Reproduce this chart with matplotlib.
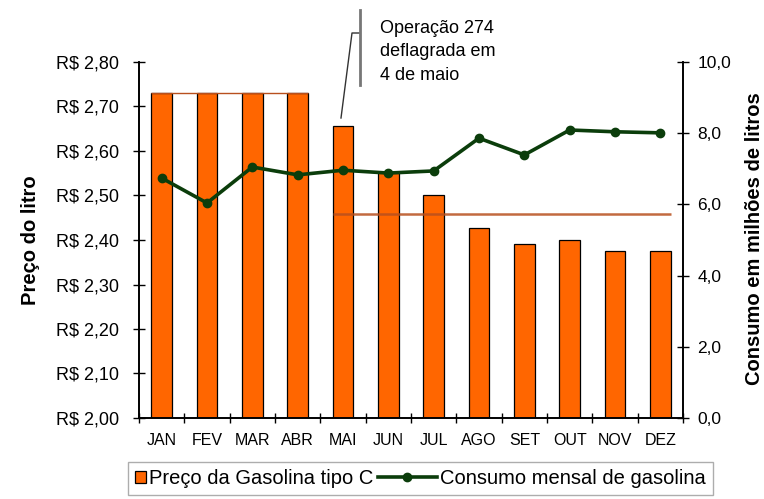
import matplotlib.pyplot as plt
from matplotlib.legend_handler import HandlerLine2D
from matplotlib.lines import Line2D
from matplotlib.ticker import FuncFormatter, MultipleLocator

plt.rcParams["font.family"] = ["Liberation Sans", "DejaVu Sans"]

# dados
meses = ["JAN", "FEV", "MAR", "ABR", "MAI", "JUN", "JUL", "AGO", "SET", "OUT", "NOV", "DEZ"]
preco = [2.73, 2.73, 2.73, 2.73, 2.656, 2.553, 2.50, 2.427, 2.39, 2.40, 2.375, 2.375]
consumo = [6.74, 6.04, 7.05, 6.83, 6.96, 6.88, 6.94, 7.86, 7.39, 8.09, 8.04, 8.01]
media_antes = 2.73   # JAN-ABR
media_depois = 2.458  # MAI-DEZ

laranja = "#ff6600"
verde = "#0b3d0b"
marrom = "#b8501e"
W, H = 764, 499


class HandlerLinhaLonga(HandlerLine2D):
    """Linha da legenda que se estende para a esquerda do espaço do marcador."""

    def __init__(self, extra, **kw):
        super().__init__(**kw)
        self.extra = extra

    def create_artists(self, legend, orig_handle, xdescent, ydescent, width, height, fontsize, trans):
        ext = self.extra * fontsize
        return super().create_artists(legend, orig_handle, xdescent + ext, ydescent,
                                      width + ext, height, fontsize, trans)


fig = plt.figure(figsize=(W / 100, H / 100), dpi=100)
ax = fig.add_axes([139 / W, 1 - 418 / H, (683 - 139) / W, (418 - 62) / H])
ax2 = ax.twinx()

x = list(range(len(meses)))
largura = 0.46
barras = ax.bar(x, preco, width=largura, color=laranja, edgecolor="black", linewidth=0.9,
                label="Preço da Gasolina tipo C", zorder=2)

# linhas de média antes/depois da operação
ax.hlines(media_antes, 0 - largura / 2, 3 + largura / 2, color=marrom, linewidth=1.0, zorder=3)
ax.hlines(media_depois, 4 - largura / 2, 11 + largura / 2, color=marrom, linewidth=1.8, alpha=0.85, zorder=3)

linha, = ax2.plot(x, consumo, color=verde, linewidth=2.6, marker="o", markersize=6,
                  label="Consumo mensal de gasolina")

ax.set_xlim(-0.5, len(meses) - 0.5)
ax.set_ylim(2.0, 2.8)
ax2.set_ylim(0, 10)

ax.yaxis.set_major_locator(MultipleLocator(0.1))
ax.yaxis.set_major_formatter(FuncFormatter(lambda v, p: "R$ " + f"{v:.2f}".replace(".", ",")))
ax2.yaxis.set_major_locator(MultipleLocator(2))
ax2.yaxis.set_major_formatter(FuncFormatter(lambda v, p: f"{v:.1f}".replace(".", ",")))

ax.set_xticks(x)
ax.set_xticklabels(meses)
ax.set_xticks([i - 0.5 for i in range(len(meses) + 1)], minor=True)
ax.tick_params(axis="x", which="major", length=0, pad=11, labelsize=11.5)
ax.tick_params(axis="x", which="minor", direction="inout", length=7, width=1)
ax.tick_params(axis="y", direction="inout", length=9, width=1, labelsize=13, pad=10)
ax2.tick_params(axis="y", direction="inout", length=9, width=1, labelsize=12.5, pad=6)

for a in (ax, ax2):
    a.spines["top"].set_visible(False)
    for s in ("left", "right", "bottom"):
        a.spines[s].set_linewidth(1.2)

fig.text(31 / W, 1 - 240 / H, "Preço do litro", rotation=90, ha="center", va="center",
         fontsize=14.5, fontweight="bold")
fig.text(755 / W, 1 - 239 / H, "Consumo em milhões de litros", rotation=90, ha="center",
         va="center", fontsize=14.5, fontweight="bold")

# anotação da operação
fig.add_artist(Line2D([341 / W, 352 / W, 360 / W], [1 - 118 / H, 1 - 33 / H, 1 - 33 / H],
                      color="#333333", linewidth=1.0))
fig.add_artist(Line2D([360 / W, 360 / W], [1 - 10 / H, 1 - 85 / H], color="#777777", linewidth=2.0))
fig.text(380 / W, 1 - 20 / H, "Operação 274\ndeflagrada em\n4 de maio", ha="left", va="top",
         fontsize=13, linespacing=1.5)

leg = fig.legend(handles=[barras, linha], loc="upper left", bbox_to_anchor=(128 / W, 1 - 462 / H),
                 ncol=2, frameon=True, fancybox=False, fontsize=14.5, handlelength=0.55,
                 handleheight=0.55, columnspacing=2.6, handletextpad=0.15, borderpad=0.35,
                 borderaxespad=0, handler_map={linha: HandlerLinhaLonga(2.4)})
leg.get_frame().set_edgecolor("#999999")
leg.get_frame().set_linewidth(1.0)

fig.savefig("out.png", dpi=100)
